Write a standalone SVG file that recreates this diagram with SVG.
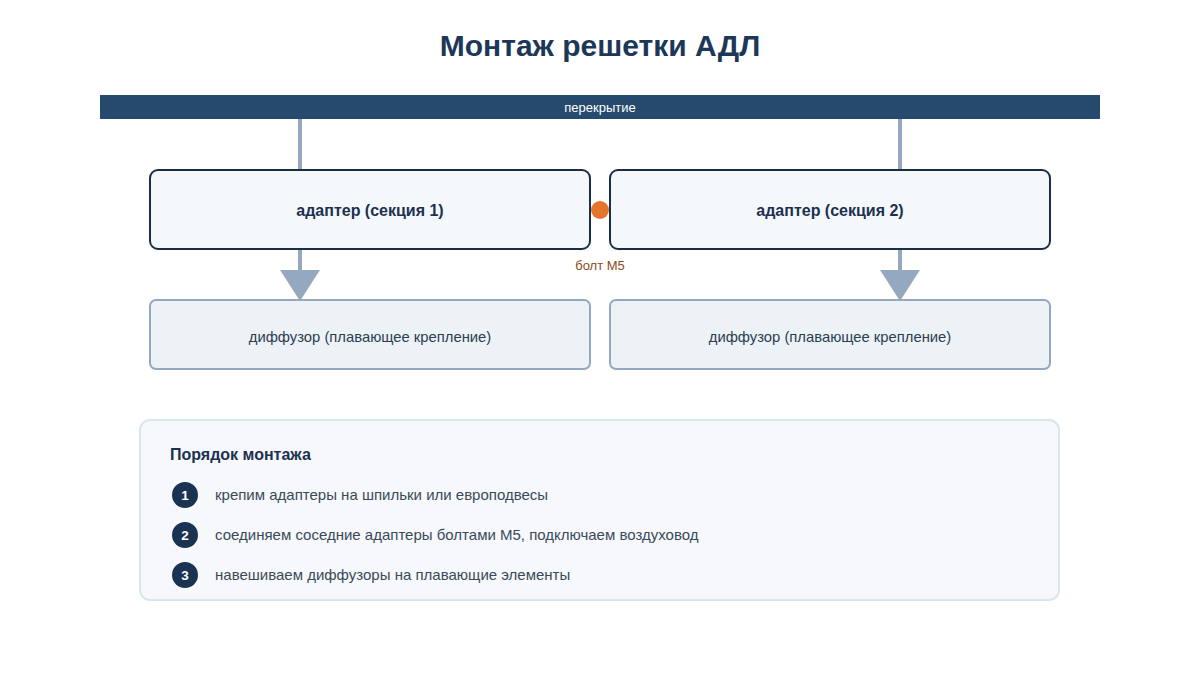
<svg xmlns="http://www.w3.org/2000/svg" width="1200" height="700" viewBox="0 0 1200 700">
<style>
text{font-family:"Liberation Sans",Arial,sans-serif}
.title{font-size:30px;font-weight:bold;fill:#1c3757}
.adapter rect{fill:#f5f8fb;stroke:#1a2e45;stroke-width:2}
.adapter text{font-size:16px;font-weight:bold;fill:#1c3050}
.diff rect{fill:#edf2f7;stroke:#94a9c0;stroke-width:2}
.diff text{font-size:14.8px;fill:#2a3d52}
.hang{stroke:#94a9c0;stroke-width:4}
.head{fill:#94a9c0}
.step circle{fill:#1a3352}
.step .n{font-size:13.5px;font-weight:bold;fill:#fff}
.step .t{font-size:15px;fill:#3a4a5a}
</style>
<rect width="1200" height="700" fill="#ffffff"/>
<text class="title" x="600" y="56" text-anchor="middle">Монтаж решетки АДЛ</text>
<g id="ceiling">
<rect x="100" y="95" width="1000" height="24" fill="#264a6e"/>
<text x="600" y="112" text-anchor="middle" font-size="13" fill="#ffffff">перекрытие</text>
</g>
<g id="connectors">
<line class="hang" x1="300" y1="119" x2="300" y2="170"/>
<line class="hang" x1="900" y1="119" x2="900" y2="170"/>
<line class="hang" x1="300" y1="250" x2="300" y2="272"/>
<polygon class="head" points="280,270 320,270 300,301"/>
<line class="hang" x1="900" y1="250" x2="900" y2="272"/>
<polygon class="head" points="880,270 920,270 900,301"/>
</g>
<g id="adapter1" class="adapter">
<rect x="150" y="170" width="440" height="79" rx="8"/>
<text x="370" y="216" text-anchor="middle">адаптер (секция 1)</text>
</g>
<g id="adapter2" class="adapter">
<rect x="610" y="170" width="440" height="79" rx="8"/>
<text x="830" y="216" text-anchor="middle">адаптер (секция 2)</text>
</g>
<g id="bolt">
<circle cx="600" cy="210" r="9" fill="#e5742c"/>
<text x="600" y="270" text-anchor="middle" font-size="13" fill="#8a4b1c">болт М5</text>
</g>
<g id="diffuser1" class="diff">
<rect x="150" y="300" width="440" height="69" rx="6"/>
<text x="370" y="342" text-anchor="middle">диффузор (плавающее крепление)</text>
</g>
<g id="diffuser2" class="diff">
<rect x="610" y="300" width="440" height="69" rx="6"/>
<text x="830" y="342" text-anchor="middle">диффузор (плавающее крепление)</text>
</g>
<g id="steps">
<rect x="140" y="420" width="919" height="180" rx="10" fill="#f6f8fb" stroke="#dbe5ed" stroke-width="2"/>
<text x="170" y="460" font-size="16" font-weight="bold" fill="#1c3050">Порядок монтажа</text>
<g class="step"><circle cx="185" cy="495" r="13"/><text class="n" x="185" y="500" text-anchor="middle">1</text><text class="t" x="215" y="500">крепим адаптеры на шпильки или европодвесы</text></g>
<g class="step"><circle cx="185" cy="535" r="13"/><text class="n" x="185" y="540" text-anchor="middle">2</text><text class="t" x="215" y="540">соединяем соседние адаптеры болтами М5, подключаем воздуховод</text></g>
<g class="step"><circle cx="185" cy="575" r="13"/><text class="n" x="185" y="580" text-anchor="middle">3</text><text class="t" x="215" y="580">навешиваем диффузоры на плавающие элементы</text></g>
</g>
</svg>
